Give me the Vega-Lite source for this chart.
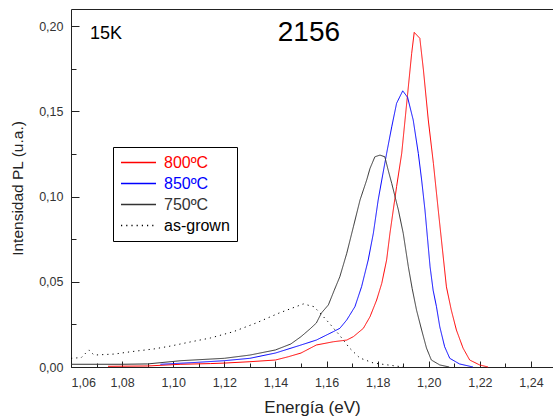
{
  "$schema": "https://vega.github.io/schema/vega-lite/v6.json",
  "width": 482,
  "height": 358,
  "autosize": {"type": "none"},
  "padding": {"left": 71, "top": 9, "right": 0, "bottom": 52},
  "background": "white",
  "config": {
    "view": {"stroke": null},
    "font": "Liberation Sans",
    "axis": {
      "grid": false,
      "domainColor": "#222",
      "tickColor": "#222",
      "labelColor": "#333",
      "labelFont": "Liberation Sans",
      "labelFontSize": 12.5,
      "titleFont": "Liberation Sans",
      "titleFontWeight": "normal",
      "titleColor": "#222"
    }
  },
  "datasets": {
    "pl": [
      {"e": 1.0745, "i": 0.0004, "s": "800ºC"},
      {"e": 1.09, "i": 0.0006, "s": "800ºC"},
      {"e": 1.103, "i": 0.0016, "s": "800ºC"},
      {"e": 1.1145, "i": 0.002, "s": "800ºC"},
      {"e": 1.12, "i": 0.0023, "s": "800ºC"},
      {"e": 1.13, "i": 0.0031, "s": "800ºC"},
      {"e": 1.14, "i": 0.0041, "s": "800ºC"},
      {"e": 1.145, "i": 0.006, "s": "800ºC"},
      {"e": 1.15, "i": 0.0082, "s": "800ºC"},
      {"e": 1.156, "i": 0.0129, "s": "800ºC"},
      {"e": 1.1626, "i": 0.0148, "s": "800ºC"},
      {"e": 1.1679, "i": 0.0158, "s": "800ºC"},
      {"e": 1.1705, "i": 0.0178, "s": "800ºC"},
      {"e": 1.1744, "i": 0.0227, "s": "800ºC"},
      {"e": 1.177, "i": 0.0295, "s": "800ºC"},
      {"e": 1.1796, "i": 0.0393, "s": "800ºC"},
      {"e": 1.1816, "i": 0.0491, "s": "800ºC"},
      {"e": 1.1835, "i": 0.0628, "s": "800ºC"},
      {"e": 1.1848, "i": 0.0784, "s": "800ºC"},
      {"e": 1.1861, "i": 0.0921, "s": "800ºC"},
      {"e": 1.1874, "i": 0.1058, "s": "800ºC"},
      {"e": 1.1894, "i": 0.1253, "s": "800ºC"},
      {"e": 1.1907, "i": 0.1449, "s": "800ºC"},
      {"e": 1.192, "i": 0.1644, "s": "800ºC"},
      {"e": 1.1933, "i": 0.184, "s": "800ºC"},
      {"e": 1.1943, "i": 0.1963, "s": "800ºC"},
      {"e": 1.1965, "i": 0.1928, "s": "800ºC"},
      {"e": 1.1979, "i": 0.1742, "s": "800ºC"},
      {"e": 1.1998, "i": 0.1449, "s": "800ºC"},
      {"e": 1.2018, "i": 0.1195, "s": "800ºC"},
      {"e": 1.2037, "i": 0.0921, "s": "800ºC"},
      {"e": 1.2069, "i": 0.047, "s": "800ºC"},
      {"e": 1.2088, "i": 0.0334, "s": "800ºC"},
      {"e": 1.2108, "i": 0.0217, "s": "800ºC"},
      {"e": 1.2134, "i": 0.0111, "s": "800ºC"},
      {"e": 1.216, "i": 0.0041, "s": "800ºC"},
      {"e": 1.2199, "i": 0.0012, "s": "800ºC"},
      {"e": 1.2232, "i": 0.0, "s": "800ºC"},

      {"e": 1.095, "i": 0.0016, "s": "850ºC"},
      {"e": 1.109, "i": 0.0027, "s": "850ºC"},
      {"e": 1.12, "i": 0.0037, "s": "850ºC"},
      {"e": 1.13, "i": 0.0051, "s": "850ºC"},
      {"e": 1.14, "i": 0.0082, "s": "850ºC"},
      {"e": 1.15, "i": 0.0129, "s": "850ºC"},
      {"e": 1.156, "i": 0.0158, "s": "850ºC"},
      {"e": 1.1626, "i": 0.0207, "s": "850ºC"},
      {"e": 1.1652, "i": 0.0227, "s": "850ºC"},
      {"e": 1.1679, "i": 0.0276, "s": "850ºC"},
      {"e": 1.1711, "i": 0.0354, "s": "850ºC"},
      {"e": 1.1737, "i": 0.0471, "s": "850ºC"},
      {"e": 1.1763, "i": 0.0628, "s": "850ºC"},
      {"e": 1.1783, "i": 0.0784, "s": "850ºC"},
      {"e": 1.1802, "i": 0.098, "s": "850ºC"},
      {"e": 1.1816, "i": 0.1097, "s": "850ºC"},
      {"e": 1.1835, "i": 0.1253, "s": "850ºC"},
      {"e": 1.1855, "i": 0.1409, "s": "850ºC"},
      {"e": 1.1874, "i": 0.1547, "s": "850ºC"},
      {"e": 1.1898, "i": 0.162, "s": "850ºC"},
      {"e": 1.1917, "i": 0.1582, "s": "850ºC"},
      {"e": 1.1939, "i": 0.1449, "s": "850ºC"},
      {"e": 1.1959, "i": 0.1253, "s": "850ºC"},
      {"e": 1.1972, "i": 0.1097, "s": "850ºC"},
      {"e": 1.1985, "i": 0.0921, "s": "850ºC"},
      {"e": 1.2005, "i": 0.0588, "s": "850ºC"},
      {"e": 1.2017, "i": 0.045, "s": "850ºC"},
      {"e": 1.203, "i": 0.0354, "s": "850ºC"},
      {"e": 1.2043, "i": 0.0236, "s": "850ºC"},
      {"e": 1.2062, "i": 0.0119, "s": "850ºC"},
      {"e": 1.2082, "i": 0.0051, "s": "850ºC"},
      {"e": 1.212, "i": 0.0018, "s": "850ºC"},
      {"e": 1.2173, "i": 0.0, "s": "850ºC"},

      {"e": 1.06, "i": 0.0016, "s": "750ºC"},
      {"e": 1.08, "i": 0.0016, "s": "750ºC"},
      {"e": 1.09, "i": 0.0018, "s": "750ºC"},
      {"e": 1.103, "i": 0.0037, "s": "750ºC"},
      {"e": 1.12, "i": 0.0051, "s": "750ºC"},
      {"e": 1.13, "i": 0.007, "s": "750ºC"},
      {"e": 1.14, "i": 0.01, "s": "750ºC"},
      {"e": 1.146, "i": 0.0135, "s": "750ºC"},
      {"e": 1.15, "i": 0.0178, "s": "750ºC"},
      {"e": 1.1535, "i": 0.0223, "s": "750ºC"},
      {"e": 1.156, "i": 0.0258, "s": "750ºC"},
      {"e": 1.158, "i": 0.0317, "s": "750ºC"},
      {"e": 1.1607, "i": 0.0364, "s": "750ºC"},
      {"e": 1.163, "i": 0.045, "s": "750ºC"},
      {"e": 1.1652, "i": 0.053, "s": "750ºC"},
      {"e": 1.1679, "i": 0.0667, "s": "750ºC"},
      {"e": 1.1705, "i": 0.0823, "s": "750ºC"},
      {"e": 1.1731, "i": 0.098, "s": "750ºC"},
      {"e": 1.1757, "i": 0.1097, "s": "750ºC"},
      {"e": 1.177, "i": 0.1165, "s": "750ºC"},
      {"e": 1.1789, "i": 0.1233, "s": "750ºC"},
      {"e": 1.1809, "i": 0.1243, "s": "750ºC"},
      {"e": 1.1828, "i": 0.1233, "s": "750ºC"},
      {"e": 1.1841, "i": 0.1155, "s": "750ºC"},
      {"e": 1.1855, "i": 0.1077, "s": "750ºC"},
      {"e": 1.1868, "i": 0.0999, "s": "750ºC"},
      {"e": 1.1881, "i": 0.0921, "s": "750ºC"},
      {"e": 1.19, "i": 0.0784, "s": "750ºC"},
      {"e": 1.192, "i": 0.0588, "s": "750ºC"},
      {"e": 1.1935, "i": 0.046, "s": "750ºC"},
      {"e": 1.1952, "i": 0.0334, "s": "750ºC"},
      {"e": 1.1972, "i": 0.0217, "s": "750ºC"},
      {"e": 1.1991, "i": 0.0111, "s": "750ºC"},
      {"e": 1.201, "i": 0.0041, "s": "750ºC"},
      {"e": 1.2043, "i": 0.0012, "s": "750ºC"},
      {"e": 1.208, "i": 0.0, "s": "750ºC"},

      {"e": 1.06, "i": 0.0051, "s": "as-grown"},
      {"e": 1.064, "i": 0.0055, "s": "as-grown"},
      {"e": 1.067, "i": 0.01, "s": "as-grown"},
      {"e": 1.069, "i": 0.007, "s": "as-grown"},
      {"e": 1.077, "i": 0.0076, "s": "as-grown"},
      {"e": 1.0836, "i": 0.009, "s": "as-grown"},
      {"e": 1.0925, "i": 0.0106, "s": "as-grown"},
      {"e": 1.099, "i": 0.0123, "s": "as-grown"},
      {"e": 1.107, "i": 0.0148, "s": "as-grown"},
      {"e": 1.1145, "i": 0.017, "s": "as-grown"},
      {"e": 1.1235, "i": 0.0207, "s": "as-grown"},
      {"e": 1.1324, "i": 0.0258, "s": "as-grown"},
      {"e": 1.1415, "i": 0.0317, "s": "as-grown"},
      {"e": 1.1509, "i": 0.037, "s": "as-grown"},
      {"e": 1.155, "i": 0.0354, "s": "as-grown"},
      {"e": 1.157, "i": 0.0324, "s": "as-grown"},
      {"e": 1.161, "i": 0.0258, "s": "as-grown"},
      {"e": 1.165, "i": 0.0188, "s": "as-grown"},
      {"e": 1.169, "i": 0.0111, "s": "as-grown"},
      {"e": 1.173, "i": 0.0053, "s": "as-grown"},
      {"e": 1.1784, "i": 0.0023, "s": "as-grown"},
      {"e": 1.185, "i": 0.001, "s": "as-grown"},
      {"e": 1.19, "i": 0.0, "s": "as-grown"}
    ],
    "notes": [
      {"e": 1.0674, "i": 0.1953, "label": "15K"},
      {"e": 1.1531, "i": 0.1957, "label": "2156"}
    ]
  },
  "layer": [
    {
      "data": {"name": "pl"},
      "mark": {"type": "line", "strokeWidth": 1, "interpolate": "linear"},
      "encoding": {
        "x": {
          "field": "e",
          "type": "quantitative",
          "scale": {"domain": [1.06, 1.2486], "nice": false, "zero": false},
          "axis": {
            "orient": "bottom",
            "values": [1.06, 1.07, 1.08, 1.09, 1.1, 1.11, 1.12, 1.13, 1.14, 1.15, 1.16, 1.17, 1.18, 1.19, 1.2, 1.21, 1.22, 1.23, 1.24],
            "labelExpr": "round(datum.value*100)%2==0 ? replace(format(datum.value,'.2f'),'.',',') : ''",
            "tickSize": {"condition": {"test": "round(datum.value*100)%2==0", "value": -6}, "value": -4},
            "labelPadding": 15,
            "labelOverlap": false,
            "title": "Energía (eV)",
            "titleFontSize": 17,
            "titlePadding": 9
          }
        },
        "y": {
          "field": "i",
          "type": "quantitative",
          "scale": {"domain": [0, 0.21], "nice": false},
          "axis": {
            "values": [0, 0.025, 0.05, 0.075, 0.1, 0.125, 0.15, 0.175, 0.2],
            "labelExpr": "round(datum.value*1000)%50==0 ? replace(format(datum.value,'.2f'),'.',',') : ''",
            "tickSize": {"condition": {"test": "round(datum.value*1000)%50==0", "value": -8}, "value": -5},
            "labelPadding": 16,
            "labelOverlap": false,
            "title": "Intensidad PL (u.a.)",
            "titleFontSize": 15.5,
            "titlePadding": 13
          }
        },
        "color": {
          "field": "s",
          "type": "nominal",
          "scale": {"domain": ["800ºC", "850ºC", "750ºC", "as-grown"], "range": ["#ff0000", "#0000ff", "#333333", "#000000"]},
          "legend": {
            "title": null,
            "orient": "none",
            "legendX": 42,
            "legendY": 138,
            "symbolType": "stroke",
            "symbolSize": 1225,
            "symbolStrokeWidth": 1.5,
            "labelFontSize": 16,
            "labelFont": "Liberation Sans",
            "labelOffset": 7,
            "clipHeight": 17,
            "rowPadding": 4,
            "padding": 7,
            "strokeColor": "#000",
            "fillColor": "#fff",
            "cornerRadius": 0,
            "encode": {"labels": {"update": {"fill": {"scale": "color", "field": "value"}}}}
          }
        },
        "strokeDash": {
          "field": "s",
          "type": "nominal",
          "scale": {"domain": ["800ºC", "850ºC", "750ºC", "as-grown"], "range": [[1, 0], [1, 0], [1, 0], [1.2, 4]]},
          "legend": {
            "title": null,
            "orient": "none",
            "legendX": 42,
            "legendY": 138
          }
        }
      }
    },
    {
      "data": {"name": "notes"},
      "transform": [{"filter": "datum.label == '2156'"}],
      "mark": {"type": "text", "fontSize": 28, "font": "Liberation Sans", "color": "#000", "align": "center", "baseline": "middle"},
      "encoding": {
        "x": {
          "field": "e",
          "type": "quantitative",
          "axis": {"orient": "top", "labels": false, "ticks": false, "domain": true, "title": null, "values": []}
        },
        "y": {"field": "i", "type": "quantitative"},
        "text": {"field": "label"}
      }
    },
    {
      "data": {"name": "notes"},
      "transform": [{"filter": "datum.label == '15K'"}],
      "mark": {"type": "text", "fontSize": 18, "font": "Liberation Sans", "color": "#000", "align": "left", "baseline": "middle"},
      "encoding": {
        "x": {"field": "e", "type": "quantitative", "axis": null},
        "y": {"field": "i", "type": "quantitative"},
        "text": {"field": "label"}
      }
    }
  ],
  "resolve": {"axis": {"x": "independent"}}
}
